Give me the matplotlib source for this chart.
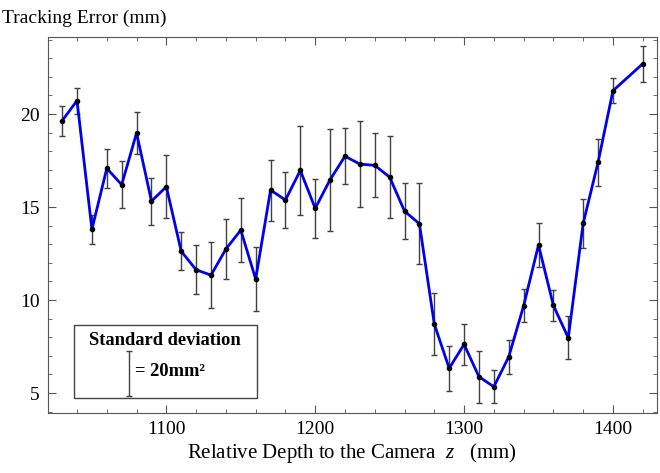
import matplotlib.pyplot as plt
from matplotlib.ticker import MultipleLocator

plt.rcParams['font.family'] = ['Liberation Serif', 'DejaVu Serif']
plt.rcParams['mathtext.fontset'] = 'custom'
plt.rcParams['mathtext.it'] = 'Liberation Serif:italic'
plt.rcParams['mathtext.rm'] = 'Liberation Serif'

depth = [1030, 1040, 1050, 1060, 1070, 1080, 1090, 1100, 1110, 1120,
         1130, 1140, 1150, 1160, 1170, 1180, 1190, 1200, 1210, 1220,
         1230, 1240, 1250, 1260, 1270, 1280, 1290, 1300, 1310, 1320,
         1330, 1340, 1350, 1360, 1370, 1380, 1390, 1400, 1420]
error = [19.64, 20.72, 13.8, 17.08, 16.2, 18.98, 15.32, 16.09, 12.62, 11.63,
         11.34, 12.74, 13.76, 11.13, 15.91, 15.38, 16.97, 14.93, 16.47, 17.73,
         17.31, 17.24, 16.61, 14.78, 14.1, 8.71, 6.33, 7.62, 5.88, 5.34,
         6.95, 9.69, 12.96, 9.71, 7.97, 14.12, 17.4, 21.25, 22.7]
std = [0.8, 0.7, 0.77, 1.04, 1.26, 1.12, 1.26, 1.7, 1.02, 1.32,
       1.77, 1.62, 1.74, 1.7, 1.64, 1.48, 2.4, 1.6, 2.75, 1.5,
       2.3, 1.72, 2.2, 1.52, 2.17, 1.65, 1.22, 1.12, 1.4, 0.88,
       0.92, 0.88, 1.17, 0.85, 1.15, 1.33, 1.25, 0.67, 0.98]

fig = plt.figure(figsize=(6.6, 4.73), dpi=100)
ax = fig.add_axes([48/660, 60/473, 609/660, 376/473])

ax.errorbar(depth, error, yerr=std, fmt='none', ecolor='#404040',
            elinewidth=1, capsize=2.5, capthick=1, zorder=2)
ax.plot(depth, error, color='#0000ee', lw=2, zorder=3)
ax.plot(depth, error, 'o', color='black', ms=3, zorder=4)

ax.set_xlim(1020.5, 1429.6)
ax.set_ylim(3.93, 24.14)
ax.xaxis.set_major_locator(MultipleLocator(100))
ax.xaxis.set_minor_locator(MultipleLocator(20))
ax.yaxis.set_major_locator(MultipleLocator(5))
ax.yaxis.set_minor_locator(MultipleLocator(1))
ax.tick_params(which='both', direction='in', top=True, right=True,
               color='#555555', labelsize=14, pad=6)
ax.tick_params(which='major', length=6)
ax.tick_params(which='minor', length=3)
for s in ax.spines.values():
    s.set_color('#555555')

# legend box for the standard deviation scale
ax.add_patch(plt.Rectangle((1038, 4.74), 123, 3.92, fill=False,
                           edgecolor='#444444', lw=1, zorder=5))
ax.text(1099, 7.85, 'Standard deviation', ha='center', va='center',
        fontsize=13.3, fontweight='bold')
ax.errorbar([1075], [6.06], yerr=[1.21], fmt='none', ecolor='#404040',
            elinewidth=1, capsize=2.5, capthick=1)
ax.text(1079, 6.15, '= 20mm²', ha='left', va='center',
        fontsize=13.3, fontweight='bold')

fig.text(2/660, 1 - 18/473, 'Tracking Error (mm)', ha='left', va='center',
         fontsize=14)
fig.text(352/660, 1 - 453/473, r'Relative Depth to the Camera  $z$   (mm)',
         ha='center', va='center', fontsize=15)

fig.savefig('out.png', dpi=100)
